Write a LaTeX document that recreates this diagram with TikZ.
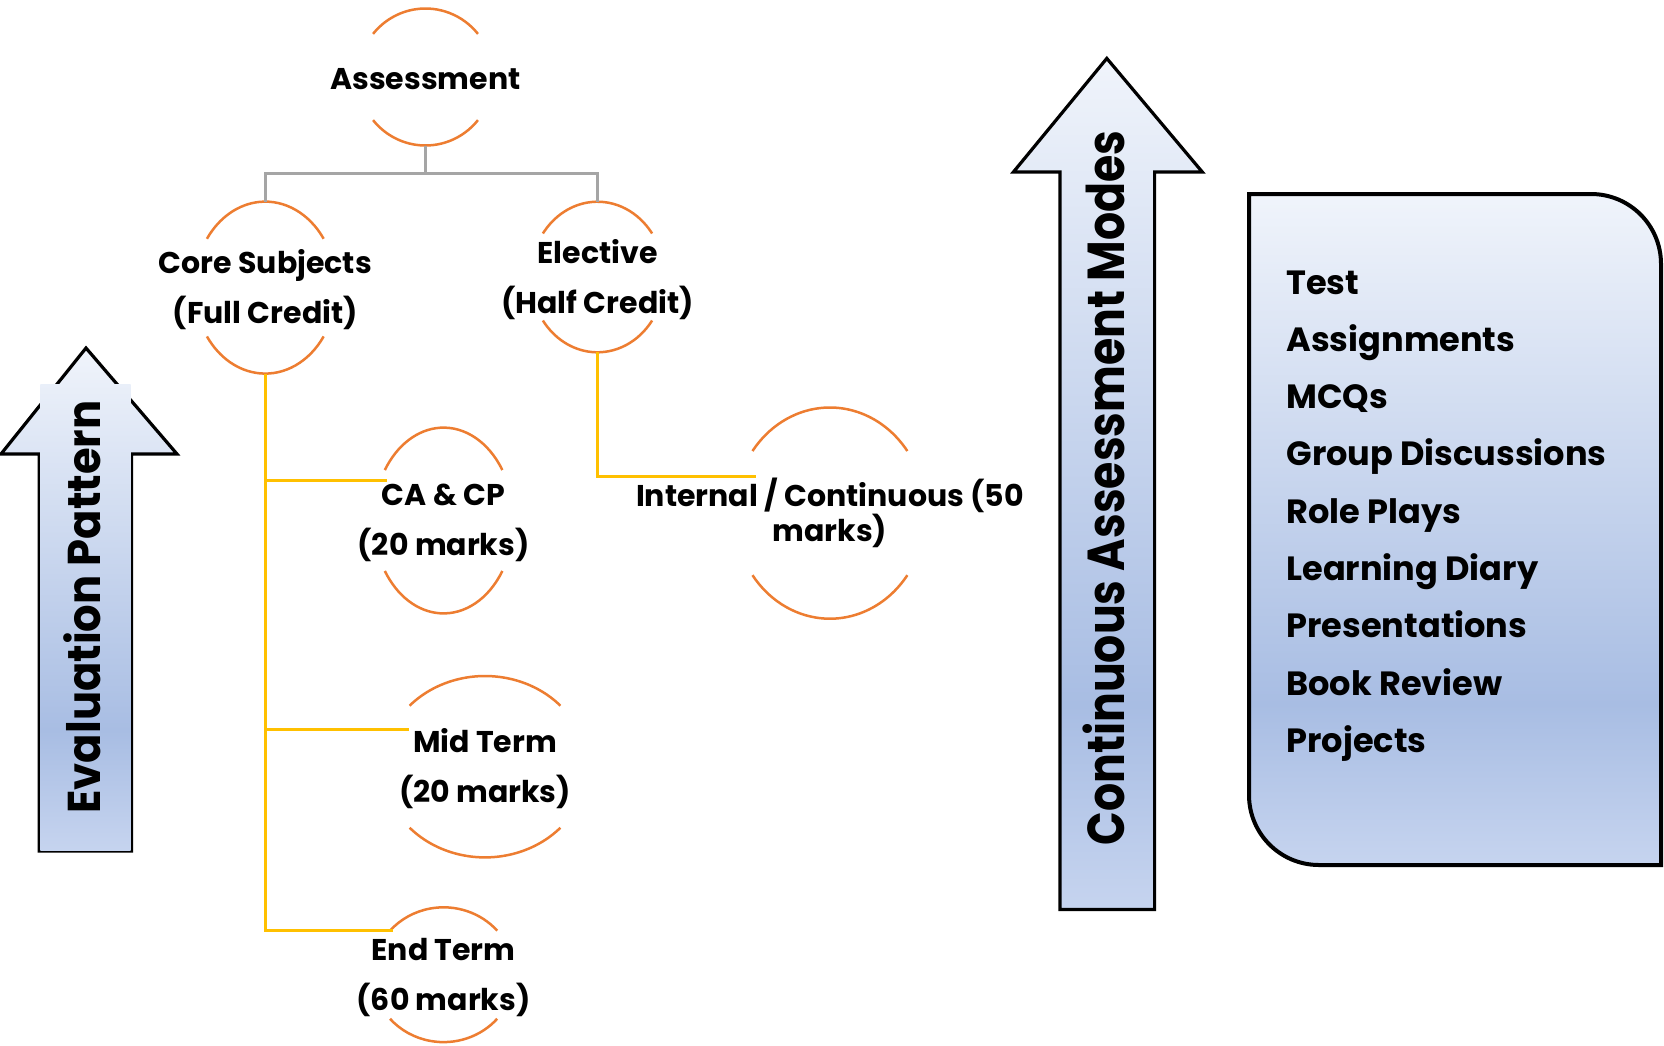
\documentclass[tikz,border=0pt]{standalone}
\usepackage{fontspec}
\setmainfont{Poppins}
\usetikzlibrary{calc}
\definecolor{arcor}{HTML}{ED7D31}
\definecolor{ylw}{HTML}{FFC000}
\definecolor{gry}{HTML}{A5A5A5}
\definecolor{gtop}{HTML}{F0F4FB}
\definecolor{gmid}{HTML}{A8BDE3}
\definecolor{gbot}{HTML}{C6D4EF}
\pgfdeclareverticalshading{blueg}{100bp}{color(0bp)=(gbot); color(25bp)=(gbot); color(37bp)=(gmid); color(75bp)=(gtop); color(100bp)=(gtop)}
\tikzset{
  arcst/.style={draw=arcor, line width=1.25pt},
  yst/.style={draw=ylw, line width=1.5pt},
  grayst/.style={draw=gry, line width=1.5pt},
  outl/.style={draw=black, line width=1.6pt, shading=blueg, line join=miter},
  lbl/.style={font=\bfseries\fontsize{15}{25}\selectfont, align=center, inner sep=0pt, yshift=-1.2pt},
  itm/.style={font=\bfseries\fontsize{16.8}{20}\selectfont, anchor=base west, inner sep=0pt},
}
% name, cx, cy, rx, ry, t, text
\newcommand\ovalnode[7]{%
  \node[lbl] (#1) at (#2,#3) {#7};
  \coordinate (#1-n) at (#2,{#3-#5});
  \coordinate (#1-s) at (#2,{#3+#5});
  \begin{scope}[shift={(#2,#3)}]
    \draw[arcst] ({#4*cos(#6)},{#5*sin(#6)}) arc[start angle=#6, end angle={180-#6}, x radius=#4, y radius=#5];
    \draw[arcst] ({#4*cos(#6)},{-#5*sin(#6)}) arc[start angle={-#6}, end angle={-180+#6}, x radius=#4, y radius=#5];
  \end{scope}}
\begin{document}
\begin{tikzpicture}[x=0.5pt, y=-0.5pt]
\useasboundingbox[fill=white] (0,0) rectangle (1664,1045);

% left arrow
\draw[outl] (86,348) -- (177,454) -- (131.6,454) -- (131.6,851) -- (39.3,851) -- (39.3,454) -- (1,454) -- cycle;
\begin{scope}
  \clip (40.3,384) rectangle (130.6,850);
  \shade[shading=blueg] (1,348) rectangle (177,851);
\end{scope}
\node[rotate=90, font=\bfseries\fontsize{23}{25}\selectfont, inner sep=0pt] (evp) at (82,607) {\scalebox{0.94}[1]{Evaluation Pattern}};

% right arrow
\draw[outl] (1106.8,58.4) -- (1202.3,172) -- (1154.6,172) -- (1154.6,909.5) -- (1060,909.5) -- (1060,172) -- (1013.4,172) -- cycle;
\node[rotate=90, font=\bfseries\fontsize{26}{28}\selectfont, inner sep=0pt] (cam) at (1103.5,488) {\scalebox{0.85}[1]{Continuous Assessment Modes}};

% list box
\draw[draw=black, line width=2pt, shading=blueg] (1249,194) -- (1591,194) .. controls (1629.7,194) and (1661,225.3) .. (1661,264) -- (1661,865) -- (1319,865) .. controls (1280.3,865) and (1249,833.7) .. (1249,795) -- cycle;
\node[itm] (l1) at (1286,294) {Test};
\node[itm] (l2) at (1286,351.3) {Assignments};
\node[itm] (l3) at (1286,408.6) {MCQs};
\node[itm] (l4) at (1286,465.9) {Group Discussions};
\node[itm] (l5) at (1286,523.2) {Role Plays};
\node[itm] (l6) at (1286,580.5) {Learning Diary};
\node[itm] (l7) at (1286,637.8) {Presentations};
\node[itm] (l8) at (1286,695.1) {Book Review};
\node[itm] (l9) at (1286,752.4) {Projects};

% tree nodes
\ovalnode{assess}{425.5}{77}{67.5}{68.5}{39}{Assessment}
\ovalnode{core}{265.3}{287.6}{70.9}{86}{34.6}{Core Subjects\\(Full Credit)}
\ovalnode{elec}{597.5}{277}{66.9}{75.3}{35.3}{Elective\\(Half Credit)}
\ovalnode{cacp}{443.6}{520.5}{70}{92.9}{32.9}{CA \& CP\\(20 marks)}
\ovalnode{mid}{485}{766.7}{101.9}{90.7}{42.3}{Mid Term\\(20 marks)}
\ovalnode{endt}{443.6}{974.7}{70.8}{67.4}{40.8}{End Term\\(60 marks)}
\node[lbl, font=\bfseries\fontsize{15}{17.5}\selectfont, yshift=1.2pt] (intern) at (829.9,513.1) {Internal / Continuous (50\\marks)};
\coordinate (intern-n) at (829.9,407.5);
\begin{scope}[shift={(829.9,513.1)}]
  \draw[arcst] ({95.7*cos(36)},{105.6*sin(36)}) arc[start angle=36, end angle=144, x radius=95.7, y radius=105.6];
  \draw[arcst] ({95.7*cos(36)},{-105.6*sin(36)}) arc[start angle=-36, end angle=-144, x radius=95.7, y radius=105.6];
\end{scope}

% connectors
\coordinate (gj) at (425.5,173);
\draw[grayst] (assess-s) -- (gj);
\draw[grayst] (core-n) |- (gj) -| (elec-n);

\coordinate (cacp-in) at (387.3,480.7);
\coordinate (mid-in) at (408.6,729);
\coordinate (endt-in) at (392.6,930.7);
\coordinate (intern-in) at (755.6,476.5);
\draw[yst] (core-s) |- (endt-in);
\draw[yst] (core-s) |- (mid-in);
\draw[yst] (core-s) |- (cacp-in);
\draw[yst] (elec-s) |- (intern-in);
\end{tikzpicture}
\end{document}
